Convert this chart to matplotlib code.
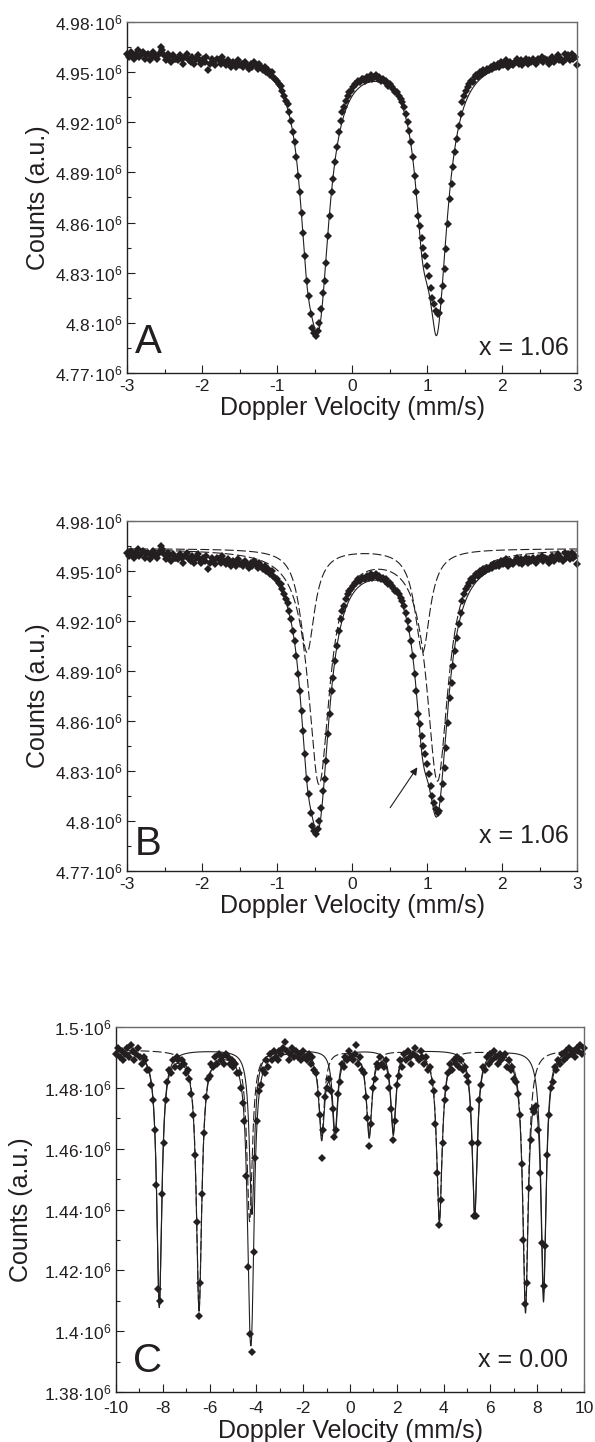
import numpy as np
import matplotlib
matplotlib.use("Agg")
import matplotlib.pyplot as plt
from matplotlib.ticker import MultipleLocator, FuncFormatter

plt.rcParams['font.family'] = ['Liberation Sans', 'DejaVu Sans']
plt.rcParams['mathtext.fontset'] = 'custom'
plt.rcParams['mathtext.rm'] = 'Liberation Sans'
plt.rcParams['mathtext.it'] = 'Liberation Sans:italic'
plt.rcParams['mathtext.bf'] = 'Liberation Sans:bold'
plt.rcParams['axes.unicode_minus'] = False

# ---------------- data (counts in units of 1e3) ----------------
# Panels A and B : x = 1.06, velocity channels from -3 to 3 mm/s
COUNTS_AB = [
    4961, 4959, 4962, 4960, 4958, 4961, 4963, 4959, 4960, 4962,
    4958, 4960, 4961, 4957, 4959, 4962, 4960, 4958, 4961, 4965,
    4963, 4960, 4957, 4961, 4959, 4956, 4960, 4958, 4958, 4957,
    4960, 4958, 4955, 4959, 4961, 4957, 4956, 4959, 4955, 4958,
    4960, 4957, 4955, 4958, 4956, 4959, 4951, 4955, 4958, 4956,
    4954, 4958, 4957, 4955, 4959, 4956, 4954, 4957, 4955, 4953,
    4956, 4955, 4953, 4957, 4954, 4955, 4953, 4956, 4954, 4952,
    4955, 4953, 4956, 4954, 4952, 4955, 4953, 4951, 4953, 4950,
    4951, 4948, 4950, 4947, 4946, 4945, 4943, 4942,
    4939, 4936, 4933, 4931, 4926, 4921, 4914, 4908, 4899, 4888, 4878, 4866,
    4854, 4840, 4825, 4816, 4805, 4797, 4794, 4792, 4795, 4800,
    4808, 4818, 4825, 4836, 4852, 4864, 4878, 4886, 4896, 4905,
    4914, 4921, 4926, 4929, 4933, 4936, 4938, 4939, 4941, 4943,
    4943, 4945, 4944, 4946, 4946, 4945, 4947, 4946, 4948, 4946,
    4947, 4948, 4946, 4947, 4945, 4946, 4944, 4945, 4942, 4943,
    4941, 4940, 4938, 4938, 4936, 4934, 4932, 4929, 4925, 4920,
    4915, 4908, 4899, 4888, 4878, 4864, 4858, 4851, 4845, 4840,
    4834, 4828, 4821, 4815, 4811, 4807, 4805, 4806, 4813, 4822,
    4832, 4844, 4859, 4874, 4883, 4893, 4902, 4910, 4918, 4925,
    4932, 4936, 4939, 4941, 4943, 4945, 4944, 4947, 4948, 4947,
    4950, 4949, 4951, 4950, 4952, 4951, 4953, 4952, 4954, 4953,
    4955, 4953, 4956, 4954, 4955, 4957, 4953, 4956, 4955, 4954,
    4956, 4958, 4955, 4957, 4954, 4956, 4958, 4955, 4957, 4956,
    4958, 4956, 4955, 4958, 4957, 4959, 4956, 4958, 4957, 4955,
    4958, 4959, 4956, 4958, 4960, 4957, 4958, 4956, 4961, 4958,
    4960, 4957, 4961, 4958, 4959, 4954,
]

# Panel C : x = 0.00, velocity channels from -10 to 10 mm/s
COUNTS_C = [
    1491, 1493, 1490, 1492, 1489, 1491, 1493, 1490, 1494, 1492, 1489, 1491, 1493, 1490,
    1488, 1490, 1489, 1486, 1486, 1481, 1476, 1466, 1448, 1414, 1410, 1445, 1462, 1476, 1482, 1486,
    1485, 1489, 1487, 1490, 1489, 1487, 1489, 1488, 1485, 1486,
    1483, 1478, 1471, 1458, 1436, 1405, 1416, 1445, 1465, 1477, 1483,
    1484, 1488, 1487, 1490, 1488, 1491, 1489, 1490, 1488, 1491,
    1490, 1488, 1489, 1487, 1488, 1485, 1485, 1480, 1475, 1469,
    1451, 1421, 1399, 1393, 1426, 1457, 1469, 1479, 1481, 1486,
    1485, 1489, 1487, 1491, 1489, 1492, 1490, 1489, 1492, 1491,
    1493, 1495, 1492, 1489, 1491, 1493, 1490, 1492, 1490, 1491, 1489, 1492, 1490,
    1489, 1491, 1488, 1490, 1486, 1485, 1478, 1471, 1457, 1466,
    1477, 1480, 1483, 1479, 1473, 1464, 1466, 1478, 1482, 1488,
    1487, 1490, 1489, 1492, 1490, 1489, 1491, 1494, 1488, 1490,
    1486, 1485, 1477, 1470, 1461, 1468, 1480, 1483, 1488, 1487,
    1490, 1488, 1487, 1489, 1484, 1480, 1473, 1463, 1469, 1481,
    1484, 1489, 1487, 1491, 1489, 1492, 1490, 1488, 1491, 1493, 1490,
    1489, 1492, 1490, 1488, 1490, 1486, 1487, 1482, 1479, 1468, 1452,
    1435, 1443, 1462, 1476, 1480, 1485, 1488, 1486, 1489, 1488,
    1490, 1487, 1489, 1486, 1487, 1484, 1482, 1473, 1462, 1438, 1438,
    1462, 1476, 1481, 1487, 1486, 1490, 1488, 1491, 1489, 1492,
    1490, 1488, 1491, 1489, 1490, 1491, 1487, 1489, 1486, 1487, 1483, 1482,
    1478, 1471, 1455, 1430, 1409, 1416, 1447, 1463, 1473, 1472, 1474,
    1466, 1452, 1429, 1415, 1428, 1458, 1471, 1480, 1482, 1487, 1486,
    1489, 1488, 1491, 1489, 1492, 1490, 1493, 1491, 1492, 1490, 1493, 1492, 1494, 1491, 1493,
]

# ---------------- fitted line parameters ----------------
# baseline of the fit for A/B (1e3 counts) at v = -3 and v = +3
FIT_AB_BASELINE = [4961.5, 4959.5]
COMP_B_BASELINE = 4963.5
DOUBLET1_CENTERS = [-0.44, 1.14]
DOUBLET1_DEPTHS = [140, 138]
DOUBLET1_HWHM = [0.171, 0.171]
DOUBLET2_CENTERS = [-0.60, 0.94]
DOUBLET2_DEPTHS = [62, 62]
DOUBLET2_HWHM = [0.1225, 0.1225]
A_EXTRA_CENTERS = [1.125]
A_EXTRA_DEPTHS = [10]
A_EXTRA_HWHM = [0.063]

FIT_C_BASELINE = 1492.5
SEXTET1_CENTERS = [-8.15, -4.19, -0.64, 1.85, 5.33, 8.27]
SEXTET1_DEPTHS = [84, 54, 27, 27, 54, 80]
SEXTET1_HWHM = [0.13] * 6
SEXTET2_CENTERS = [-6.45, -4.29, -1.21, 0.82, 3.82, 7.50]
SEXTET2_DEPTHS = [85, 56, 28, 28, 56, 84]
SEXTET2_HWHM = [0.14] * 6

LABEL_X = "Doppler Velocity (mm/s)"
LABEL_Y = "Counts (a.u.)"


def absorption(v, centers, depths, hwhm):
    out = np.zeros_like(v)
    for c, d, g in zip(centers, depths, hwhm):
        out += d * g ** 2 / ((v - c) ** 2 + g ** 2)
    return out


INK = '#231f20'
W, H = 595, 1442
fig = plt.figure(figsize=(W / 100, H / 100), dpi=100)


def axes_px(left, top, right, bottom):
    return fig.add_axes([left / W, 1 - bottom / H, (right - left) / W, (bottom - top) / H])


def ftext(px, py, s, **kw):
    fig.text(px / W, 1 - py / H, s, **kw)


def sci_fmt(y, pos):
    return f"{y / 1e6:g}·10$^{{6}}$"


def x_fmt(x, pos):
    return f"{x:g}"


def style(ax, xlim, ylim, xmaj, xmin, ymaj, ymin, ylabx, xpad=4):
    ax.set_xlim(*xlim)
    ax.set_ylim(*ylim)
    ax.xaxis.set_major_locator(MultipleLocator(xmaj))
    ax.xaxis.set_minor_locator(MultipleLocator(xmin))
    ax.yaxis.set_major_locator(MultipleLocator(ymaj))
    ax.yaxis.set_minor_locator(MultipleLocator(ymin))
    ax.yaxis.set_major_formatter(FuncFormatter(sci_fmt))
    ax.xaxis.set_major_formatter(FuncFormatter(x_fmt))
    ax.tick_params(which='both', direction='in', top=False, right=False,
                   colors=INK, labelsize=12.5, width=0.8)
    ax.tick_params(which='major', length=5.5)
    ax.tick_params(which='minor', length=3)
    ax.tick_params(axis='x', pad=xpad)
    ax.tick_params(axis='y', pad=3)
    for s in ['left', 'bottom']:
        ax.spines[s].set_color(INK)
        ax.spines[s].set_linewidth(1.0)
    for s in ['top', 'right']:
        ax.spines[s].set_color('#6a6a6a')
        ax.spines[s].set_linewidth(1.0)
    ax.set_xlabel(LABEL_X, fontsize=18, color=INK, labelpad=2)
    ax.set_ylabel(LABEL_Y, fontsize=18, color=INK)
    ax.yaxis.set_label_coords(ylabx, 0.5)


v_ab = np.linspace(-3, 3, len(COUNTS_AB))
y_ab = np.array(COUNTS_AB, dtype=float) * 1e3
vf = np.linspace(-3, 3, 2000)
base_ab = np.interp(vf, [-3, 3], FIT_AB_BASELINE)
abs_d1 = absorption(vf, DOUBLET1_CENTERS, DOUBLET1_DEPTHS, DOUBLET1_HWHM)
abs_d2 = absorption(vf, DOUBLET2_CENTERS, DOUBLET2_DEPTHS, DOUBLET2_HWHM)
abs_ex = absorption(vf, A_EXTRA_CENTERS, A_EXTRA_DEPTHS, A_EXTRA_HWHM)
fit_total_b = (base_ab - abs_d1 - abs_d2) * 1e3
fit_total_a = (base_ab - abs_d1 - abs_d2 - abs_ex) * 1e3
comp1_b = (COMP_B_BASELINE - abs_d1) * 1e3
comp2_b = (COMP_B_BASELINE - abs_d2) * 1e3

mk = dict(marker='D', ms=3.9, color=INK, mec=INK, mew=0, ls='none', zorder=2, clip_on=False)
ln = dict(color=INK, lw=0.8, zorder=3)
dash = dict(color=INK, lw=0.8, zorder=3, dashes=(8, 3))

# ---------------- Panel A ----------------
axA = axes_px(127, 22, 577, 373)
axA.plot(v_ab, y_ab, **mk)
axA.plot(vf, fit_total_a, **ln)
style(axA, (-3, 3), (4.77e6, 4.98e6), 1, 0.5, 30000, 15000, -0.172)
ftext(135, 353, "A", fontsize=29, color=INK, ha='left', va='baseline')
ftext(569, 355, "x = 1.06", fontsize=18, color=INK, ha='right', va='baseline')

# ---------------- Panel B ----------------
axB = axes_px(127, 521, 577, 871)
axB.plot(v_ab, y_ab, **mk)
axB.plot(vf, comp1_b, **dash)
axB.plot(vf, comp2_b, **dash)
axB.plot(vf, fit_total_b, **ln)
axB.annotate("", xy=(0.892, 4.8336e6), xytext=(0.488, 4.8066e6),
             arrowprops=dict(arrowstyle='-|>', color=INK, lw=0.8, mutation_scale=11))
style(axB, (-3, 3), (4.77e6, 4.98e6), 1, 0.5, 30000, 15000, -0.172)
ftext(135, 855, "B", fontsize=29, color=INK, ha='left', va='baseline')
ftext(569, 843, "x = 1.06", fontsize=18, color=INK, ha='right', va='baseline')

# ---------------- Panel C ----------------
v_c = np.linspace(-10, 10, len(COUNTS_C))
y_c = np.array(COUNTS_C, dtype=float) * 1e3
vfc = np.linspace(-10, 10, 4000)
abs_s1 = absorption(vfc, SEXTET1_CENTERS, SEXTET1_DEPTHS, SEXTET1_HWHM)
abs_s2 = absorption(vfc, SEXTET2_CENTERS, SEXTET2_DEPTHS, SEXTET2_HWHM)

axC = axes_px(116, 1027, 584, 1392)
axC.plot(v_c, y_c, **mk)
axC.plot(vfc, (FIT_C_BASELINE - abs_s2) * 1e3, **dash)
axC.plot(vfc, (FIT_C_BASELINE - abs_s1) * 1e3, **ln)
axC.plot(vfc, (FIT_C_BASELINE - abs_s1 - abs_s2) * 1e3, **ln)
style(axC, (-10, 10), (1.38e6, 1.5e6), 2, 1, 20000, 10000, -0.177, xpad=6.5)
ftext(133, 1372, "C", fontsize=29, color=INK, ha='left', va='baseline')
ftext(568, 1367, "x = 0.00", fontsize=18, color=INK, ha='right', va='baseline')

fig.savefig("out.png", dpi=100)
